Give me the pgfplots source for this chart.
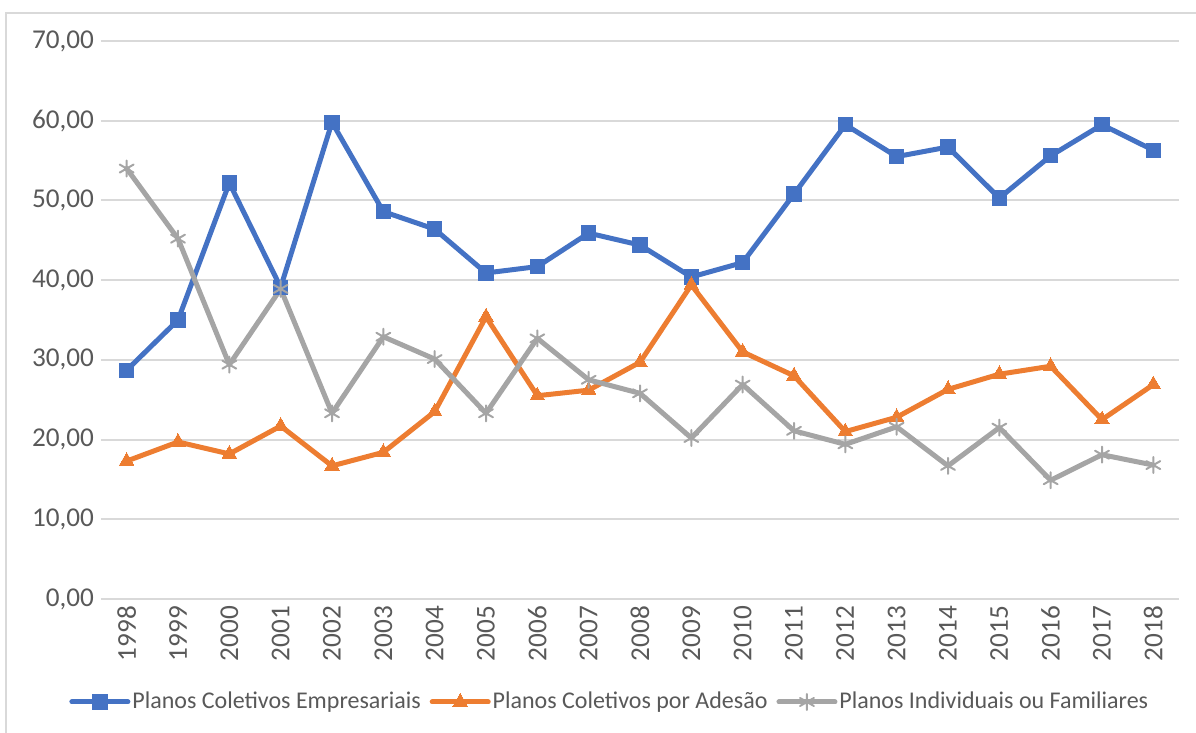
\documentclass[border=0pt]{standalone}
\usepackage{pgfplots}
\pgfplotsset{compat=1.18}
\usepackage{fontspec}
\setmainfont{Carlito}

\definecolor{cblue}{HTML}{4472C4}
\definecolor{corange}{HTML}{ED7D31}
\definecolor{cgray}{HTML}{A5A5A5}
\definecolor{cgrid}{HTML}{D9D9D9}
\definecolor{ctext}{HTML}{595959}

\pgfplotstableread{
ano emp ade ind
1998 28.7 17.3 54.0
1999 35.0 19.7 45.2
2000 52.2 18.2 29.4
2001 39.1 21.7 38.9
2002 59.8 16.7 23.3
2003 48.6 18.4 32.9
2004 46.4 23.5 30.1
2005 40.9 35.4 23.3
2006 41.7 25.5 32.7
2007 45.9 26.2 27.5
2008 44.4 29.7 25.8
2009 40.4 39.4 20.2
2010 42.2 31.0 26.9
2011 50.8 28.0 21.1
2012 59.5 21.0 19.4
2013 55.5 22.8 21.6
2014 56.7 26.3 16.7
2015 50.3 28.2 21.5
2016 55.6 29.2 14.9
2017 59.5 22.5 18.1
2018 56.3 26.9 16.8
}\dados

\begin{document}
\begin{tikzpicture}[x=0.5pt,y=0.5pt]
% 1 px of the reference = 0.5pt, origin at the axis' lower left corner
\useasboundingbox (-101,-134) rectangle (1095,599);
\draw[cgrid, line width=1pt] (-95,-134) -- (-95,586) -- (1095,586);
\begin{axis}[
  at={(0,0)}, anchor=south west,
  scale only axis,
  width=539pt, height=279pt,
  xmin=1997.5, xmax=2018.5,
  ymin=0, ymax=70,
  xtick={1998,...,2018},
  ytick={0,10,...,70},
  axis line style={draw=none},
  tick style={draw=none},
  ymajorgrids, grid style={cgrid, line width=1pt},
  x tick label style={rotate=90, anchor=east, font=\fontsize{13.6}{15}\selectfont, text=ctext},
  y tick label style={font=\fontsize{13.6}{15}\selectfont, text=ctext},
  xticklabel style={/pgf/number format/1000 sep={}},
  yticklabel style={/pgf/number format/.cd, fixed, fixed zerofill, precision=2, use comma, assume math mode=true},
  xticklabel style={/pgf/number format/assume math mode=true},
  xtick pos=bottom,
  legend columns=3,
  legend style={at={(0.472,-0.1846)}, anchor=center, draw=none,
    font=\fontsize{12}{14}\selectfont, text=ctext,
    nodes={inner xsep=1pt},
    /tikz/every even column/.append style={column sep=3.5pt}},
  legend image code/.code={\draw[mark repeat=2, mark phase=2] plot coordinates {(0pt,0pt) (14pt,0pt) (28pt,0pt)};},
  every axis plot/.append style={line width=2.5pt, line join=round, line cap=round},
]
\addplot[cblue, mark=square*, mark size=3.6pt, mark options={line width=0pt}] table[x=ano, y=emp] {\dados};
\addplot[corange, mark=triangle*, mark size=4.2pt, mark options={line width=0pt}] table[x=ano, y=ade] {\dados};
\addplot[cgray, mark=asterisk, mark size=4pt, mark options={line width=1pt}] table[x=ano, y=ind] {\dados};
\legend{Planos Coletivos Empresariais, Planos Coletivos por Adesão, Planos Individuais ou Familiares}
\end{axis}
\end{tikzpicture}
\end{document}
